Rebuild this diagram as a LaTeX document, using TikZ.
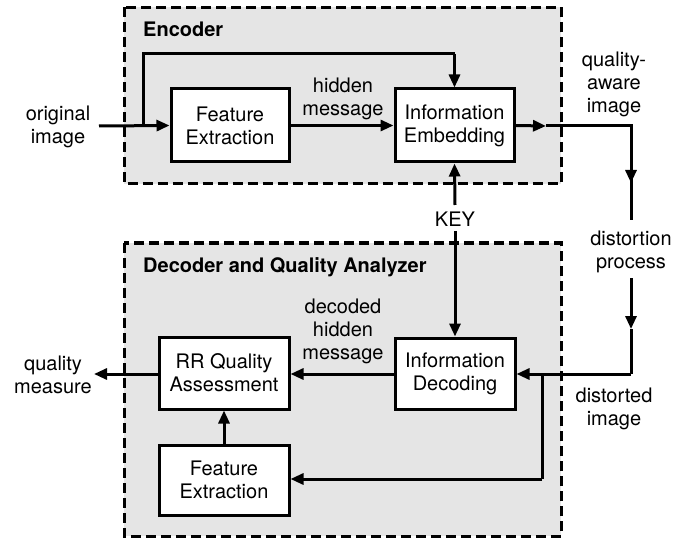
\documentclass[tikz,border=0pt]{standalone}
\usepackage{fontspec}
\setmainfont{TeX Gyre Heros}
\usetikzlibrary{arrows.meta}
\begin{document}
\begin{tikzpicture}[x=1pt,y=-1pt,
  lbl/.style={align=center,font=\fontsize{20}{23}\selectfont,inner sep=0pt},
  blk/.style={draw=black,line width=3pt,fill=white,align=center,font=\fontsize{20}{23}\selectfont,inner sep=0pt},
  grp/.style={draw=black,line width=3pt,fill=black!10,dash pattern=on 10pt off 5pt},
  ttl/.style={font=\bfseries\fontsize{20}{23}\selectfont,anchor=base west,inner sep=0pt},
  ln/.style={line width=3pt},
  arr/.style={line width=3pt,-{Triangle[length=13pt,width=11pt]}}
]
\useasboundingbox (0,0) rectangle (688,540);
\fill[white] (0,0) rectangle (688,540);
% groups
\draw[grp] (124,7.5) rectangle (561,184);
\draw[grp] (124,243) rectangle (561,536);
\node[ttl] (enc) at (143,37) {Encoder};
\node[ttl] (dqa) at (143,272) {Decoder and Quality Analyzer};
% blocks
\node[blk,minimum width=118pt,minimum height=73pt] (fe1) at (230,125.5) {Feature\\Extraction};
\node[blk,minimum width=119pt,minimum height=73pt] (emb) at (454.5,125.5) {Information\\Embedding};
\node[blk,minimum width=120pt,minimum height=71pt] (dec) at (455,373.5) {Information\\Decoding};
\node[blk,minimum width=130pt,minimum height=72pt] (rr) at (224,373) {RR Quality\\Assessment};
\node[blk,minimum width=130pt,minimum height=70pt] (fe2) at (224,480) {Feature\\Extraction};
% labels
\node[lbl] (orig) at (58,127) {original\\image};
\node[lbl] (hid) at (343,99) {hidden\\message};
\node[lbl] (qai) at (614,84) {quality-\\aware\\image};
\node[lbl] (key) at (455,219) {KEY};
\node[lbl] (dist) at (631,252) {distortion\\process};
\node[lbl] (dimg) at (614,409) {distorted\\image};
\node[lbl] (dhm) at (343,331) {decoded\\hidden\\message};
\node[lbl] (qm) at (53,375) {quality\\measure};
% coordinates
\coordinate (oin) at (99,126);
\coordinate (br1) at (143,126);
\coordinate (up1) at (143,54);
\coordinate (up2) at (454.5,54);
\coordinate (omid) at (546,126);
\coordinate (ocor) at (631,126);
\coordinate (dmid) at (631,183);
\coordinate (dend) at (631,220);
\coordinate (pst) at (631,278);
\coordinate (pmid) at (631,329);
\coordinate (pcor) at (631,374);
\coordinate (br2) at (542,374);
\coordinate (br3) at (542,479);
\coordinate (qout) at (94,374);
\coordinate (kt) at (455,205);
\coordinate (kb) at (455,231);
% connectors
\draw[arr] (oin) -- (fe1.west);
\draw[ln] (br1) -- (up1) -- (up2);
\draw[arr] (up2) -- (emb.north);
\draw[arr] (fe1.east) -- (emb.west |- fe1.east);
\draw[arr] (emb.east) -- (omid);
\draw[ln] (omid) -- (ocor) -- (dend);
\draw[arr] (ocor) -- (dmid);
\draw[arr] (kt) -- (emb.south);
\draw[arr] (kb) -- (dec.north);
\draw[arr] (pst) -- (pmid);
\draw[ln] (pmid) -- (pcor);
\draw[arr] (pcor) -- (dec.east |- pcor);
\draw[ln] (br2) -- (br3);
\draw[arr] (br3) -- (fe2.east |- br3);
\draw[arr] (dec.west |- pcor) -- (rr.east |- pcor);
\draw[arr] (rr.west |- qout) -- (qout);
\draw[arr] (fe2.north) -- (rr.south);
\end{tikzpicture}
\end{document}
